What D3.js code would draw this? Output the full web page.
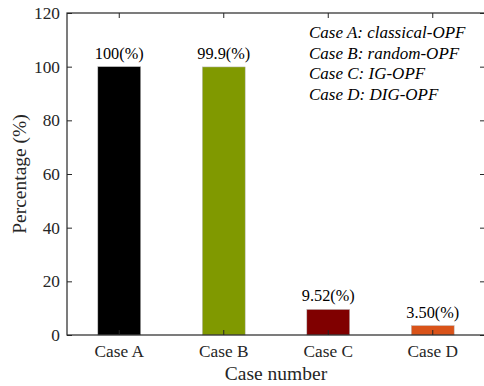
<!DOCTYPE html>
<html><head><meta charset="utf-8">
<script src="https://cdn.jsdelivr.net/npm/d3@7"></script>
<style>body{margin:0;background:#fff}svg{display:block}</style>
</head><body>
<svg id="c" width="484" height="386"></svg>
<script>
const categories = ["Case A","Case B","Case C","Case D"];
const values = [100, 99.9, 9.52, 3.50];
const valueLabels = ["100(%)","99.9(%)","9.52(%)","3.50(%)"];
const colors = ["#000000","#809900","#800000","#d95319"];
const yTicks = [0,20,40,60,80,100,120];
const legendLines = ["Case A: classical-OPF","Case B: random-OPF","Case C: IG-OPF","Case D: DIG-OPF"];

const svg = d3.select("#c");
const L = 67, R = 485, T = 13, B = 335;
const font = "'Liberation Serif','Times New Roman',serif";
const ink = "#262626";

const x = d3.scaleBand().domain(categories).range([L, R]).paddingInner(0.59).paddingOuter(0.295);
const y = d3.scaleLinear().domain([0,120]).range([B, T]);

// bars
svg.selectAll("rect.bar").data(values).enter().append("rect")
  .attr("x", (d,i)=>x(categories[i]))
  .attr("width", x.bandwidth())
  .attr("y", d=>y(d))
  .attr("height", d=>B - y(d))
  .attr("fill", (d,i)=>colors[i])
  .attr("stroke", "#bbb").attr("stroke-width", 0.5);

// value labels
svg.selectAll("text.vl").data(values).enter().append("text")
  .attr("x", (d,i)=>x(categories[i]) + x.bandwidth()/2)
  .attr("y", d=>y(d) - 8)
  .attr("text-anchor","middle")
  .attr("font-family", font).attr("font-size", 16.3).attr("fill", "#000")
  .text((d,i)=>valueLabels[i]);

// axes
const tickLen = 5;
const yAxisL = d3.axisLeft(y).tickValues(yTicks).tickSizeInner(-tickLen).tickSizeOuter(0).tickPadding(7);
const yAxisR = d3.axisRight(y).tickValues(yTicks).tickSizeInner(-tickLen).tickSizeOuter(0).tickFormat("");
const xAxisB = d3.axisBottom(x).tickSizeInner(-tickLen).tickSizeOuter(0).tickPadding(10);
const xAxisT = d3.axisTop(x).tickSizeInner(-tickLen).tickSizeOuter(0).tickFormat("");

function style(g){
  g.select(".domain").remove();
  g.selectAll("line").attr("stroke", ink);
  g.selectAll("text").attr("font-family", font).attr("font-size", 17.3).attr("fill", ink);
}
svg.append("g").attr("transform",`translate(${L},0)`).call(yAxisL).call(style);
svg.append("g").attr("transform",`translate(${R},0)`).call(yAxisR).call(style);
svg.append("g").attr("transform",`translate(0,${B})`).call(xAxisB).call(style);
svg.append("g").attr("transform",`translate(0,${T})`).call(xAxisT).call(style);

// box
svg.append("rect").attr("x",L).attr("y",T).attr("width",R-L).attr("height",B-T)
  .attr("fill","none").attr("stroke",ink).attr("stroke-width",1.2);

// axis titles
svg.append("text").attr("x", (L+R)/2).attr("y", 380)
  .attr("text-anchor","middle").attr("font-family",font).attr("font-size",19.5).attr("fill",ink)
  .text("Case number");
svg.append("text").attr("transform",`translate(26,${(T+B)/2}) rotate(-90)`)
  .attr("text-anchor","middle").attr("font-family",font).attr("font-size",19.5).attr("fill",ink)
  .text("Percentage (%)");

// legend text
svg.selectAll("text.lg").data(legendLines).enter().append("text")
  .attr("x", 309).attr("y", (d,i)=>38 + i*20.7)
  .attr("font-family",font).attr("font-style","italic").attr("font-size",17).attr("fill","#000")
  .text(d=>d);
</script>
</body></html>
